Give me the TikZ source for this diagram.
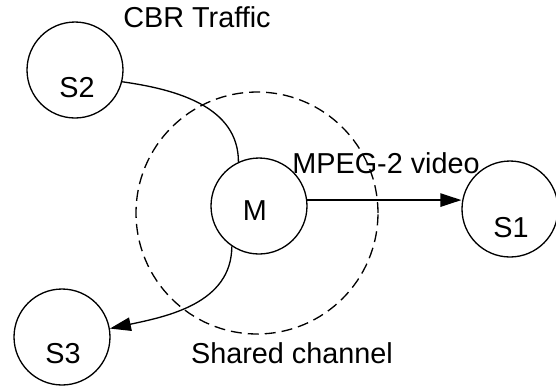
\documentclass[tikz,border=0pt]{standalone}
\usepackage{fontspec}
\setmainfont{Liberation Sans}
\usetikzlibrary{arrows.meta}

\begin{document}
\begin{tikzpicture}[x=0.02cm, y=-0.02cm,
    station/.style={circle, draw, line width=0.75pt, minimum size=1.92cm, inner sep=0pt},
    txt/.style={font=\fontsize{16.4}{19.7}\selectfont, inner sep=0pt},
    flow/.style={line width=0.75pt, -{Triangle[length=0.42cm, width=0.27cm]}}]
        \useasboundingbox (0,0) rectangle (556,387);

        % shared channel
        \draw[line width=0.75pt, dash pattern=on 0.22cm off 0.12cm] (257,213) circle (2.42cm);

        % stations
        \node[station] (s2) at (75,70) {};
        \node[station] (m) at (259,206) {};
        \node[station] (s1) at (510,209) {};
        \node[station] (s3) at (62,337) {};
        \node[txt] (s2txt) at (77,88) {S2};
        \node[txt] (mtxt) at (255,211) {M};
        \node[txt] (s1txt) at (511,228) {S1};
        \node[txt] (s3txt) at (63,354) {S3};

        % connections
        \draw[line width=0.75pt] (s2.-14) to[out=-8, in=90] (m.115);
        \draw[flow] (m.7) -- (m.7 -| s1.west);
        \draw[flow] (m.-124) to[out=-90, in=12] (s3.10);

        % text
        \node[txt] (cbr) at (197,17) {CBR Traffic};
        \node[txt] (mpeg) at (386,163) {MPEG-2 video};
        \node[txt] (shared) at (292,353) {Shared channel};
    \end{tikzpicture}
\end{document}
